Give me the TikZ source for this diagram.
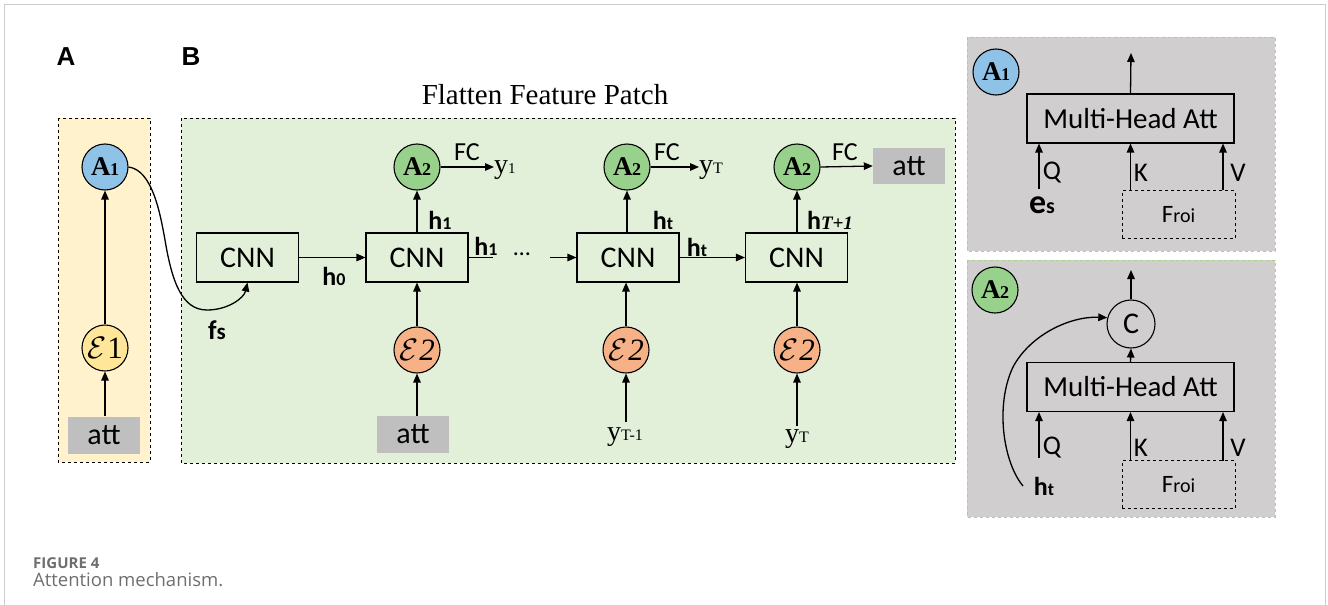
\documentclass[tikz,border=0pt]{standalone}
\usepackage{fontspec}
\setmainfont{Liberation Serif}
\newfontfamily\calib{Carlito}
\newfontfamily\arl{Liberation Sans}
\newfontfamily\osans{Open Sans}
\usetikzlibrary{arrows.meta}
\definecolor{ypanel}{HTML}{FFF2CC}
\definecolor{gpanel}{HTML}{E2F0D9}
\definecolor{graypanel}{HTML}{D0CECE}
\definecolor{attgray}{HTML}{BFBFBF}
\definecolor{cblue}{HTML}{8FC2E7}
\definecolor{cgreen}{HTML}{97D18C}
\definecolor{cyellow}{HTML}{FFE699}
\definecolor{corange}{HTML}{F6B186}
\definecolor{bluedash}{HTML}{9DC3E6}
\definecolor{greendash}{HTML}{A9D18E}
\definecolor{captgray}{HTML}{6D6E71}
\definecolor{framegray}{HTML}{CCCCCC}
\newcommand\Alab[1]{\fontsize{27}{27}\selectfont\textbf{A}\kern-0.5pt{\fontsize{18}{18}\selectfont\textbf{#1}}}
\newcommand\Epslab[1]{{\normalsize\scalebox{3.1}{$\mathcal{E}$}}\kern1pt{\fontsize{31}{31}\selectfont#1}}
\newcommand\hlab[1]{{\calib\bfseries\fontsize{26}{26}\selectfont h\fontsize{18}{18}\selectfont #1}}
\tikzset{
  arr/.style={-{Triangle[length=9pt,width=7.5pt]}, line width=1.3pt},
  plain/.style={line width=1.3pt},
  cnnbox/.style={draw, line width=1.1pt, minimum width=102pt, minimum height=49pt, inner sep=0pt, font=\calib\fontsize{30}{30}\selectfont},
  circ/.style={circle, draw, line width=1.1pt, minimum size=46pt, inner sep=0pt},
  attbox/.style={fill=attgray, minimum width=72pt, minimum height=37pt, inner sep=0pt, font=\calib\fontsize{30}{30}\selectfont},
  mhabox/.style={draw, line width=1.1pt, minimum width=207pt, minimum height=49pt, inner sep=0pt, font=\calib\fontsize{29}{29}\selectfont},
  froibox/.style={draw, dashed, line width=1pt, minimum width=113pt, minimum height=48pt, inner sep=0pt},
  lab/.style={inner sep=0pt},
  fclab/.style={inner sep=0pt, font=\calib\fontsize{26}{26}\selectfont},
  qkv/.style={inner sep=0pt, font=\calib\fontsize{27}{27}\selectfont},
}
\begin{document}
\begin{tikzpicture}[x=1pt,y=-1pt]
\useasboundingbox (0,0) rectangle (1328,605);
% outer frame
\draw[framegray, line width=1pt] (4,605) -- (4,4) -- (1325,4) -- (1325,605);
% labels A B
\node[lab, font=\arl\bfseries\fontsize{26}{26}\selectfont] (labA) at (66,57) {A};
\node[lab, font=\arl\bfseries\fontsize{26}{26}\selectfont] (labB) at (191,57) {B};
% panels
\draw[dashed, line width=0.9pt, fill=ypanel] (58,118) rectangle (150,462);
\draw[dashed, line width=0.9pt, fill=gpanel] (181,118) rectangle (955,463);
\node[lab, font=\fontsize{29}{29}\selectfont] (title) at (545,95) {Flatten Feature Patch};
% ---- panel A
\node[circ, fill=cblue] (a1) at (105,167) {\Alab{1}};
\node[circ, fill=cyellow] (e1) at (105,348) {\Epslab{1}};
\node[attbox] (attA) at (104,435) {att};
\draw[arr] (e1.south |- attA.north) -- (e1.south);
\draw[arr] (e1.north) -- (a1.south);
% ---- panel B
\node[cnnbox] (cnn0) at (247.5,257.5) {CNN};
\node[cnnbox] (cnn1) at (417,257.5) {CNN};
\node[cnnbox] (cnn2) at (628,257.5) {CNN};
\node[cnnbox] (cnn3) at (796.5,257.5) {CNN};
\node[circ, fill=cgreen] (a2a) at (417,167) {\Alab{2}};
\node[circ, fill=cgreen] (a2b) at (627,167) {\Alab{2}};
\node[circ, fill=cgreen] (a2c) at (797,167) {\Alab{2}};
\node[circ, fill=corange] (e2a) at (417,350) {\Epslab{\textit{2}}};
\node[circ, fill=corange] (e2b) at (626,350) {\Epslab{\textit{2}}};
\node[circ, fill=corange] (e2c) at (797,350) {\Epslab{\textit{2}}};
\node[attbox] (attB) at (413,434.5) {att};
\node[lab, font=\fontsize{28}{28}\selectfont] (ytm) at (625,437) {y\fontsize{16}{16}\selectfont T-1};
\node[lab, font=\fontsize{28}{28}\selectfont] (yt) at (797,439) {y\fontsize{16}{16}\selectfont T};
\draw[arr] (e2a.south |- attB.north) -- (e2a.south);
\draw[arr] ([yshift=5pt]e2b.south |- ytm.north) -- (e2b.south);
\draw[arr] ([yshift=3pt]e2c.south |- yt.north) -- (e2c.south);
\draw[arr] (e2a.north) -- (e2a.north |- cnn1.south);
\draw[arr] (e2b.north) -- (e2b.north |- cnn2.south);
\draw[arr] (e2c.north) -- (e2c.north |- cnn3.south);
\draw[arr] (a2a.south |- cnn1.north) -- (a2a.south);
\draw[arr] (a2b.south |- cnn2.north) -- (a2b.south);
\draw[arr] (a2c.south |- cnn3.north) -- (a2c.south);
\node[lab] (lh1a) at (440,220) {\hlab{1}};
\node[lab] (lhta) at (663,220) {\hlab{t}};
\node[lab] (lhT) at (830,220) {{\calib\bfseries\fontsize{26}{26}\selectfont h}{\bfseries\itshape\fontsize{19}{19}\selectfont T+1}};
% horizontal chain
\draw[arr] (cnn0.east) -- (cnn1.west);
\node[lab] (lh0) at (334,276) {\hlab{0}};
\coordinate (h1end) at (493,257.5);
\draw[plain] (cnn1.east) -- (h1end);
\node[lab] (lh1b) at (486,246) {\hlab{1}};
\node[lab, font=\calib\fontsize{24}{24}\selectfont] (dots) at (522,254) {\ldots};
\coordinate (h2start) at (550,257.5);
\draw[arr] (h2start) -- (cnn2.west);
\draw[arr] (cnn2.east) -- (cnn3.west);
\node[lab] (lhtb) at (697,247) {\hlab{t}};
% FC outputs
\node[lab, font=\fontsize{28}{28}\selectfont, anchor=west] (y1) at (494,170) {y\fontsize{15}{15}\selectfont 1};
\node[lab, font=\fontsize{28}{28}\selectfont, anchor=west] (yT) at (699,170) {y\fontsize{16}{16}\selectfont T};
\node[attbox, minimum height=36pt] (attR) at (909,166) {att};
\draw[arr] (a2a.east) -- (a2a.east -| y1.west);
\draw[arr] (a2b.east) -- (a2b.east -| yT.west);
\draw[arr] (a2c.east) -- (attR.west);
\node[fclab] (fc1) at (467,152) {FC};
\node[fclab] (fc2) at (667,152) {FC};
\node[fclab] (fc3) at (845,152) {FC};
% curve A1 -> CNN0
\draw[arr] (a1.east) .. controls (152,170) and (160,212) .. (165,240) .. controls (172,282) and (182,310) .. (207,310) .. controls (228,310) and (244,298) .. (cnn0.south);
\node[lab] (fs) at (217,330) {{\calib\bfseries\fontsize{27}{27}\selectfont f\fontsize{23}{23}\selectfont s}};
% ---- right panel A1
\draw[bluedash, dashed, line width=0.9pt, fill=graypanel] (967,37) rectangle (1275,251);
\node[circ, fill=cblue] (ra1) at (996,72) {\Alab{1}};
\node[mhabox] (mha1) at (1130.5,118.5) {Multi-Head Att};
\coordinate (out1) at (1131,53);
\draw[arr] (mha1.north) -- (out1);
\node[froibox] (froi1) at (1178.5,214.5) {{\calib\fontsize{25}{25}\selectfont F\fontsize{20}{20}\selectfont roi}};
\node[lab] (es) at (1042,205) {{\calib\bfseries\fontsize{34}{34}\selectfont e\fontsize{22}{22}\selectfont s}};
\coordinate (q1) at (1039,189);
\draw[arr] (q1) -- (q1 |- mha1.south);
\draw[arr] (froi1.north -| mha1.south) -- (mha1.south);
\coordinate (v1) at (1223,190);
\draw[arr] (v1) -- (v1 |- mha1.south);
\node[qkv] (q1l) at (1052,173) {Q};
\node[qkv] (k1l) at (1141,173) {K};
\node[qkv] (v1l) at (1238,173) {V};
% ---- right panel A2
\draw[greendash, dashed, line width=0.9pt, fill=graypanel] (967,260) rectangle (1275,517);
\node[circ, fill=cgreen] (ra2) at (995,290) {\Alab{2}};
\node[circ, minimum size=48pt, font=\calib\fontsize{30}{30}\selectfont] (cc) at (1131,324) {C};
\coordinate (out2) at (1131,270);
\draw[arr] (cc.north) -- (out2);
\node[mhabox] (mha2) at (1130.5,387) {Multi-Head Att};
\draw[arr] (mha2.north) -- (cc.south);
\node[froibox] (froi2) at (1178.5,484.5) {{\calib\fontsize{25}{25}\selectfont F\fontsize{20}{20}\selectfont roi}};
\coordinate (q2) at (1039,458);
\draw[arr] (q2) -- (q2 |- mha2.south);
\draw[arr] (froi2.north -| mha2.south) -- (mha2.south);
\coordinate (v2) at (1223,461);
\draw[arr] (v2) -- (v2 |- mha2.south);
\node[qkv] (q2l) at (1052,448) {Q};
\node[qkv] (k2l) at (1141,448) {K};
\node[qkv] (v2l) at (1238,448) {V};
\node[lab] (ht) at (1044,486) {\hlab{t}};
\coordinate (htstart) at (1023,486);
\draw[arr] (htstart) .. controls (1003,462) and (995,405) .. (1013,367) .. controls (1030,335) and (1070,316) .. (cc.165);
% caption
\node[lab, anchor=west, text=captgray, font=\osans\bfseries\fontsize{15}{15}\selectfont] (fig) at (33,563) {FIGURE 4};
\node[lab, anchor=west, text=captgray, font=\osans\fontsize{18.5}{18.5}\selectfont] (cap) at (33,580) {Attention mechanism.};
\end{tikzpicture}
\end{document}
